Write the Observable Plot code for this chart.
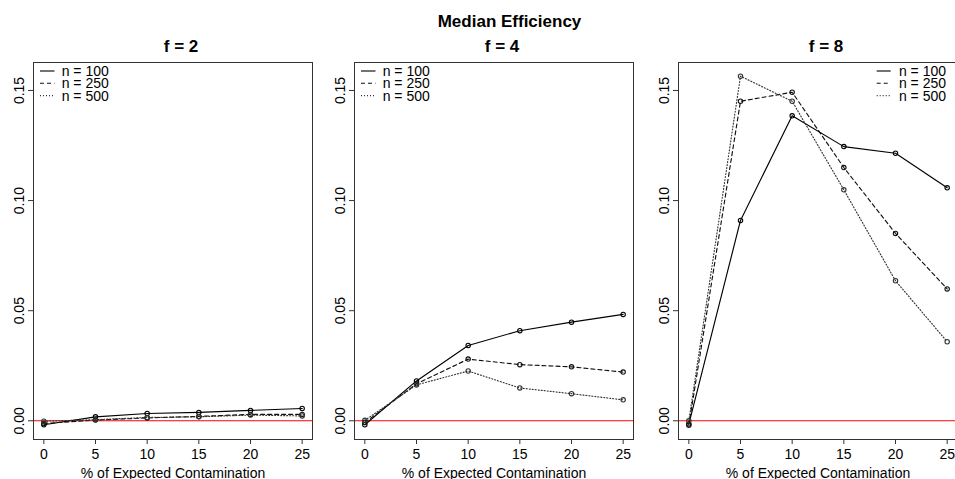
<!DOCTYPE html>
<html><head><meta charset="utf-8">
<script src="https://cdn.jsdelivr.net/npm/d3@7"></script>
<script src="https://cdn.jsdelivr.net/npm/@observablehq/plot@0.6"></script>
<style>
html,body{margin:0;padding:0;overflow:hidden;background:#fff;width:955px;height:479px}
#chart{position:relative;width:955px;height:479px;overflow:hidden}
.panel{position:absolute;top:0}
</style></head><body><div id="chart"></div>
<script>
// ---- data ----
const contamination = [0, 5, 10, 15, 20, 25];
const seriesLabels = ["n = 100", "n = 250", "n = 500"];
const panelTitles = ["f = 2", "f = 4", "f = 8"];
const mainTitle = "Median Efficiency";
const xLabel = "% of Expected Contamination";
const xTicks = [0, 5, 10, 15, 20, 25];
const yTicks = [0, 0.05, 0.10, 0.15];

const f2_n100 = [-0.0018, 0.0018, 0.0033, 0.0038, 0.0047, 0.0056];
const f2_n250 = [-0.0012, 0.0003, 0.0013, 0.0020, 0.0029, 0.0029];
const f2_n500 = [-0.0002, 0.0005, 0.0015, 0.0018, 0.0026, 0.0022];

const f4_n100 = [-0.0018, 0.0181, 0.0342, 0.0409, 0.0448, 0.0483];
const f4_n250 = [-0.0008, 0.0168, 0.0280, 0.0255, 0.0245, 0.0221];
const f4_n500 = [0.0002, 0.0163, 0.0226, 0.0149, 0.0123, 0.0095];

const f8_n100 = [-0.0015, 0.0910, 0.1385, 0.1245, 0.1215, 0.1058];
const f8_n250 = [-0.0020, 0.1451, 0.1492, 0.1150, 0.0851, 0.0599];
const f8_n500 = [0.0000, 0.1565, 0.1451, 0.1049, 0.0636, 0.0359];

// ---- styles ----
const dashes = [null, "4,3", "1,2"];
const strokes = ["#000", "#111", "#333"];
const font = "'Liberation Sans', Arial, Helvetica, sans-serif";

const W = 322, H = 479, ML = 33, MR = 10, MT = 62, MB = 40;
const panelLefts = [0, 321, 644.5];

const panels = [
  {title: panelTitles[0], series: [f2_n100, f2_n250, f2_n500], legend: "left"},
  {title: panelTitles[1], series: [f4_n100, f4_n250, f4_n500], legend: "left", main: true},
  {title: panelTitles[2], series: [f8_n100, f8_n250, f8_n500], legend: "right"}
];

function legendMark(side) {
  return () => {
    const g = d3.create("svg:g")
      .attr("font-family", font).attr("font-size", 14).attr("fill", "#000");
    const boxR = W - MR;
    seriesLabels.forEach((lab, i) => {
      const cy = MT + 9 + i * 12.3;
      let x1, x2, tx, anchor;
      if (side === "left") { x1 = ML + 7; x2 = ML + 21.5; tx = ML + 28.7; anchor = "start"; }
      else { x1 = boxR - 80.3; x2 = boxR - 66.3; tx = boxR - 11; anchor = "end"; }
      const l = g.append("line").attr("x1", x1).attr("x2", x2).attr("y1", cy).attr("y2", cy)
        .attr("stroke", strokes[i]).attr("stroke-width", 1.1);
      if (dashes[i]) l.attr("stroke-dasharray", dashes[i]);
      g.append("text").attr("x", tx).attr("y", cy).attr("dy", "0.35em")
        .attr("text-anchor", anchor).text(lab);
    });
    return g.node();
  };
}

const chart = document.getElementById("chart");
panels.forEach((p, pi) => {
  const marks = [];
  marks.push(Plot.ruleY([0], {stroke: "#ff0000", strokeWidth: 1.1}));
  p.series.forEach((vals, si) => {
    const rows = contamination.map((x, i) => ({x, y: vals[i], n: seriesLabels[si]}));
    const opts = {x: "x", y: "y", stroke: strokes[si], strokeWidth: 1.15};
    if (dashes[si]) opts.strokeDasharray = dashes[si];
    marks.push(Plot.line(rows, opts));
    marks.push(Plot.dot(rows, {x: "x", y: "y", r: 2.2, stroke: strokes[si], strokeWidth: 1.1, fill: "none"}));
  });
  marks.push(Plot.frame({stroke: "#333", strokeWidth: 1}));
  marks.push(Plot.axisX({ticks: xTicks, tickSize: 5, tickPadding: 5, fontSize: 14, label: null, stroke: "#333"}));
  marks.push(Plot.axisY({ticks: yTicks, tickSize: 5, tickPadding: 5, tickRotate: -90, fontSize: 14, label: null, tickFormat: d3.format(".2f"), stroke: "#333"}));
  marks.push(Plot.text([xLabel], {text: d => d, frameAnchor: "bottom", dy: 38, lineAnchor: "bottom", fontSize: 14, fill: "#000"}));
  marks.push(Plot.text([p.title], {text: d => d, frameAnchor: "top", dx: 8, dy: -10.3, lineAnchor: "bottom", fontSize: 17, fontWeight: "bold", fill: "#000"}));
  if (p.main) marks.push(Plot.text([mainTitle], {text: d => d, frameAnchor: "top", dx: 15.5, dy: -36, lineAnchor: "bottom", fontSize: 17, fontWeight: "bold", fill: "#000"}));
  marks.push(legendMark(p.legend));

  const svg = Plot.plot({
    width: W, height: H,
    marginLeft: ML, marginRight: MR, marginTop: MT, marginBottom: MB,
    x: {domain: [-1, 26]},
    y: {domain: [-0.0085, 0.1627]},
    style: {fontFamily: font, fontSize: "14px", color: "#000", background: "transparent", overflow: "visible"},
    marks
  });
  svg.classList.add("panel");
  svg.style.left = panelLefts[pi] + "px";
  svg.style.position = "absolute";
  svg.style.top = "0px";
  chart.appendChild(svg);
});
</script></body></html>
